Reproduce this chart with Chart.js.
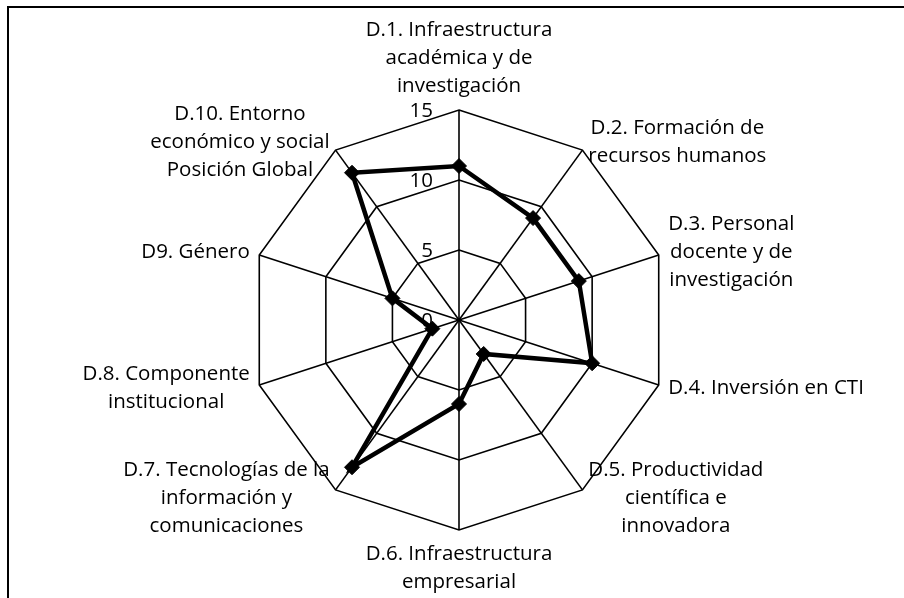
<!DOCTYPE html>
<html>
<head>
<meta charset="utf-8">
<script src="https://cdn.jsdelivr.net/npm/chart.js@4/dist/chart.umd.min.js"></script>
<style>
  html, body { margin: 0; padding: 0; background: #fff; }
  #wrap { position: relative; width: 904px; height: 598px; overflow: hidden; }
  #frame { position: absolute; left: 7px; top: 6px; right: -4px; bottom: -4px; border-left: 2px solid #000; border-top: 2px solid #000; }
  canvas { position: absolute; left: 0; top: 0; }
</style>
</head>
<body>
<div id="wrap">
  <div id="frame"></div>
  <canvas id="chart" width="904" height="598"></canvas>
</div>
<script>
// axis labels, one array of lines per dimension
const labels = [
  ['D.1. Infraestructura', 'académica y de', 'investigación'],
  ['D.2. Formación de', 'recursos humanos'],
  ['D.3. Personal', 'docente y de', 'investigación'],
  ['D.4. Inversión en CTI'],
  ['D.5. Productividad', 'científica e', 'innovadora'],
  ['D.6. Infraestructura', 'empresarial'],
  ['D.7. Tecnologías de la', 'información y', 'comunicaciones'],
  ['D.8. Componente', 'institucional'],
  ['D9. Género'],
  ['D.10. Entorno', 'económico y social', 'Posición Global']
];
const values = [11, 9, 9, 10, 3, 6, 13, 2, 5, 13];
const tickValues = [0, 5, 10, 15];

const FONT = '20.5px "Open Sans"';
const LINE_H = 28;

/**
 * Excel style text: ticks left of the vertical axis,
 * multi-line labels centred inside their box
 */
const textPlugin = {
  id: 'axisText',
  beforeDatasetsDraw(chart) {
    const r = chart.scales.r;
    const ctx = chart.ctx;
    ctx.save();
    ctx.font = FONT;
    ctx.fillStyle = '#000';
    ctx.textAlign = 'right';
    ctx.textBaseline = 'middle';
    tickValues.forEach(v => {
      ctx.fillText(String(v), r.xCenter - 26, r.yCenter - r.getDistanceFromCenterForValue(v) + 1);
    });
    ctx.restore();
  },
  afterDraw(chart) {
    const r = chart.scales.r;
    const ctx = chart.ctx;
    ctx.save();
    ctx.font = FONT;
    ctx.fillStyle = '#000';
    ctx.textAlign = 'center';
    ctx.textBaseline = 'middle';
    labels.forEach((lines, i) => {
      const p = r.getPointPosition(i, r.drawingArea + 10);
      const w = Math.max(...lines.map(t => ctx.measureText(t).width));
      const h = lines.length * LINE_H;
      const deg = Math.round(i * 360 / labels.length);
      let cx, top;
      if (deg === 0) { cx = p.x; top = p.y - h; }
      else if (deg === 180) { cx = p.x; top = p.y; }
      else if (deg < 180) { cx = p.x + w / 2; top = p.y - h / 2; }
      else { cx = p.x - w / 2; top = p.y - h / 2; }
      lines.forEach((t, j) => ctx.fillText(t, cx, top + LINE_H * (j + 0.5)));
    });
    ctx.restore();
  }
};

new Chart(document.getElementById('chart').getContext('2d'), {
  type: 'radar',
  data: {
    labels: labels,
    datasets: [{
      data: values,
      borderColor: '#000',
      borderWidth: 4.5,
      backgroundColor: 'transparent',
      fill: false,
      tension: 0,
      pointStyle: 'rectRot',
      pointRadius: 7.5,
      pointBackgroundColor: '#000',
      pointBorderColor: '#000',
      pointBorderWidth: 1
    }]
  },
  options: {
    responsive: false,
    animation: false,
    layout: { padding: { top: 110, bottom: 68, left: 18, right: 4 } },
    plugins: { legend: { display: false }, tooltip: { enabled: false } },
    scales: {
      r: {
        min: 0,
        max: 15,
        ticks: { display: false, stepSize: 5 },
        grid: { color: '#000', lineWidth: 1.6 },
        angleLines: { color: '#000', lineWidth: 1.6 },
        pointLabels: { display: false }
      }
    }
  },
  plugins: [textPlugin]
});
</script>
</body>
</html>
